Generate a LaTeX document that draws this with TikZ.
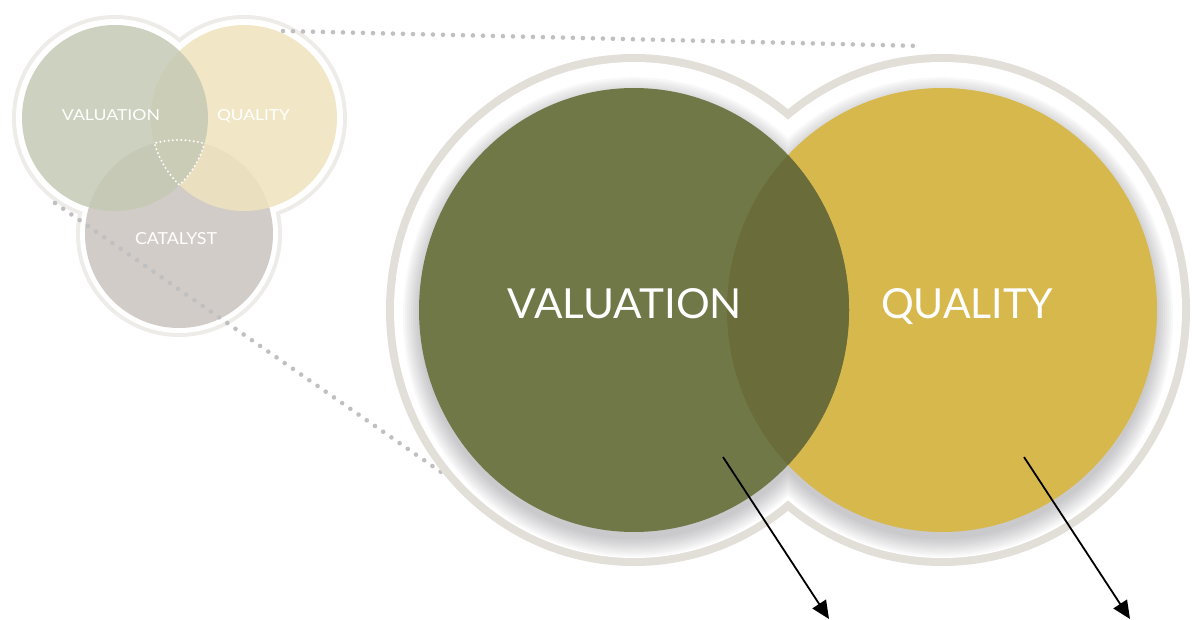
\documentclass[tikz,border=0pt]{standalone}
\usepackage{fontspec}
\setmainfont{Lato}
\usepackage{graphicx}
\usetikzlibrary{arrows.meta}
\definecolor{bigGreen}{RGB}{113,120,72}
\definecolor{bigYellow}{RGB}{215,184,76}
\definecolor{lensGreen}{RGB}{106,108,58}
\definecolor{ringGray}{RGB}{226,222,216}
\definecolor{shadowGray}{RGB}{90,90,100}
\definecolor{smallRing}{RGB}{238,236,232}
\definecolor{dotGray}{RGB}{192,192,192}
\definecolor{smVal}{RGB}{197,201,180}
\definecolor{smQual}{RGB}{239,227,189}
\definecolor{smCat}{RGB}{201,196,190}
\tikzset{
  bigtext/.style={text=white, inner sep=0pt, anchor=base},
  smalltext/.style={text=white, inner sep=0pt, anchor=base},
  dotline/.style={dotGray, line width=2.3pt, line cap=round, dash pattern=on 0pt off 5pt},
  whitedots/.style={white, line width=1.1pt, line cap=round, dash pattern=on 0pt off 2.1pt},
  pointer/.style={black, line width=0.9pt, -{Triangle[length=9pt,width=8pt]}},
  smallfill/.style={fill opacity=0.85}
}
\begin{document}
\begin{tikzpicture}[x=0.5pt,y=-0.5pt]
\useasboundingbox (0,0) rectangle (1192,620);

% ---------- small diagram ----------
\fill[smallRing] (115,118) circle[radius=103] (244,118) circle[radius=103] (179,234) circle[radius=103];
\fill[white] (115,118) circle[radius=99] (244,118) circle[radius=99] (179,234) circle[radius=99];
\fill[smCat, smallfill] (179,234) circle[radius=94];
\fill[smQual, smallfill] (244,118) circle[radius=93];
\fill[smVal, smallfill] (115,118) circle[radius=93];

% triple intersection dotted outline
\begin{scope}
  \clip (115,118) circle[radius=93];
  \clip (244,118) circle[radius=93];
  \draw[whitedots] (179,234) circle[radius=94];
\end{scope}
\begin{scope}
  \clip (115,118) circle[radius=93];
  \clip (179,234) circle[radius=94];
  \draw[whitedots] (244,118) circle[radius=93];
\end{scope}
\begin{scope}
  \clip (244,118) circle[radius=93];
  \clip (179,234) circle[radius=94];
  \draw[whitedots] (115,118) circle[radius=93];
\end{scope}

\node[smalltext] (sval) at (111,121) {\resizebox{49pt}{5.5pt}{VALUATION}};
\node[smalltext] (squal) at (253.5,121) {\resizebox{36.5pt}{5.5pt}{QUALITY}};
\node[smalltext] (scat) at (176,244) {\resizebox{41pt}{6pt}{CATALYST}};

% ---------- dotted zoom lines ----------
\coordinate (t1) at (283,31);
\coordinate (t2) at (921,46);
\coordinate (b1) at (55,203);
\coordinate (b2) at (441,472);
\draw[dotline] (t1) -- (t2);
\draw[dotline] (b1) -- (b2);

% ---------- large diagram ----------
\fill[ringGray] (634,310) ellipse[x radius=248, y radius=256] (942,310) ellipse[x radius=248, y radius=256];
\fill[white] (634,310) ellipse[x radius=240, y radius=248] (942,310) ellipse[x radius=240, y radius=248];

\begin{scope}
  \clip (634,310) ellipse[x radius=240, y radius=248] (942,310) ellipse[x radius=240, y radius=248];
  \foreach \i in {1,...,9}{
    \fill[shadowGray, opacity=0.04] (634,317) ellipse[x radius={213+2*\i}, y radius={220+2.2*\i}]
                                    (942,317) ellipse[x radius={213+2*\i}, y radius={220+2.2*\i}];
  }
\end{scope}

\fill[bigYellow] (942,310) ellipse[x radius=215, y radius=222];
\fill[bigGreen] (634,310) ellipse[x radius=215, y radius=222];
\begin{scope}
  \clip (942,310) ellipse[x radius=215, y radius=222];
  \fill[lensGreen] (634,310) ellipse[x radius=215, y radius=222];
\end{scope}

\node[bigtext] (val) at (625,318) {\resizebox{117pt}{15pt}{VALUATION}};
\node[bigtext] (qual) at (967,318) {\resizebox{86pt}{15pt}{QUALITY}};

% ---------- arrows ----------
\coordinate (a1s) at (723,457);
\coordinate (a1e) at (829,619);
\coordinate (a2s) at (1024,457);
\coordinate (a2e) at (1130,619);
\draw[pointer] (a1s) -- (a1e);
\draw[pointer] (a2s) -- (a2e);
\end{tikzpicture}
\end{document}
